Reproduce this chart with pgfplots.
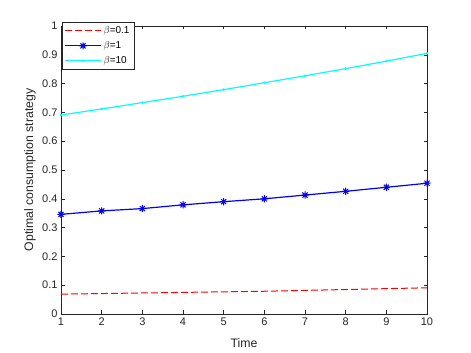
\documentclass[border=0pt]{standalone}
\usepackage{fontspec}
\setmainfont{Liberation Sans}
\usepackage{pgfplots}
\pgfplotsset{compat=1.18}
\definecolor{axgray}{RGB}{38,38,38}
\definecolor{mred}{RGB}{255,0,0}
\definecolor{mblue}{RGB}{0,0,255}
\definecolor{mcyan}{RGB}{0,255,255}
% MATLAB-like eight-armed asterisk
\pgfdeclareplotmark{mstar}{%
  \pgfpathmoveto{\pgfqpoint{-\pgfplotmarksize}{0pt}}\pgfpathlineto{\pgfqpoint{\pgfplotmarksize}{0pt}}%
  \pgfpathmoveto{\pgfqpoint{0pt}{-\pgfplotmarksize}}\pgfpathlineto{\pgfqpoint{0pt}{\pgfplotmarksize}}%
  \pgfpathmoveto{\pgfqpoint{-.707\pgfplotmarksize}{-.707\pgfplotmarksize}}\pgfpathlineto{\pgfqpoint{.707\pgfplotmarksize}{.707\pgfplotmarksize}}%
  \pgfpathmoveto{\pgfqpoint{-.707\pgfplotmarksize}{.707\pgfplotmarksize}}\pgfpathlineto{\pgfqpoint{.707\pgfplotmarksize}{-.707\pgfplotmarksize}}%
  \pgfusepathqstroke}

\begin{document}
\begin{tikzpicture}
  \useasboundingbox (-61pt,-39pt) rectangle (410pt,314pt);
  \begin{axis}[at={(0,0)},anchor=south west,scale only axis,width=366pt,height=288pt,
    xmin=1,xmax=10,ymin=0,ymax=1,
    xtick={1,...,10},ytick={0,0.1,...,1},
    yticklabel style={/pgf/number format/fixed,/pgf/number format/precision=1},
    /pgf/number format/assume math mode=true,
    tick align=inside,major tick length=3.5pt,
    axis line style={axgray,line width=0.5pt},tick style={axgray,line width=0.5pt},
    tick label style={color=axgray,font=\fontsize{11}{12}\selectfont},
    xlabel={Time},ylabel={Optimal consumption strategy},
    label style={color=axgray,font=\fontsize{12.3}{14}\selectfont},
    xlabel style={at={(axis description cs:0.5,-0.1)},anchor=center},
    ylabel style={at={(axis description cs:-0.085,0.5)},anchor=center},
    legend style={at={(axis description cs:0.002,1.014)},anchor=north west,draw=axgray,
      font=\fontsize{10}{11}\selectfont,row sep=2.5pt,inner sep=2.5pt,
      cells={anchor=west}},
    legend cell align=left,
    legend image code/.code={\draw[mark repeat=2,mark phase=2,#1] plot coordinates {(0pt,0pt) (18pt,0pt) (36pt,0pt)};},
  ]
  \addplot[mred,line width=1pt,dash pattern=on 7pt off 3pt] coordinates {
    (1,0.069) (2,0.071) (3,0.073) (4,0.075) (5,0.077) (6,0.079) (7,0.082) (8,0.085) (9,0.088) (10,0.091)};
  \addplot[mblue,line width=1.2pt,mark=mstar,mark size=3.6pt,mark options={line width=1pt}] coordinates {
    (1,0.346) (2,0.358) (3,0.366) (4,0.379) (5,0.390) (6,0.400) (7,0.413) (8,0.426) (9,0.440) (10,0.454)};
  \addplot[mcyan,line width=1.2pt,mark=*,mark size=0.6pt] coordinates {
    (1,0.691) (2,0.712) (3,0.734) (4,0.756) (5,0.779) (6,0.803) (7,0.827) (8,0.852) (9,0.878) (10,0.905)};
  \legend{$\beta$=0.1,$\beta$=1,$\beta$=10}
  \end{axis}
\end{tikzpicture}
\end{document}
